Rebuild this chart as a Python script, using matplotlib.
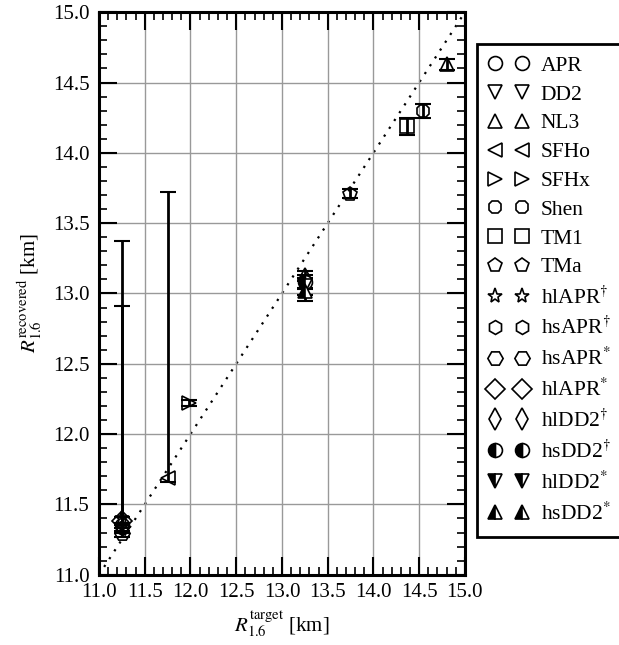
import matplotlib
matplotlib.use("Agg")
import matplotlib.pyplot as plt
import numpy as np

plt.rcParams["font.family"] = ["Liberation Serif", "DejaVu Serif"]
plt.rcParams["mathtext.fontset"] = "stix"

# data
eos_names = ["APR", "DD2", "NL3", "SFHo", "SFHx", "Shen", "TM1", "TMa",
             r"hlAPR$^{\dagger}$", r"hsAPR$^{\dagger}$", r"hsAPR$^{*}$", r"hlAPR$^{*}$",
             r"hlDD2$^{\dagger}$", r"hsDD2$^{\dagger}$", r"hlDD2$^{*}$", r"hsDD2$^{*}$"]
r_target = [11.25, 13.25, 14.81, 11.75, 11.98, 14.54, 14.37, 13.74,
            11.25, 11.25, 11.25, 11.25, 13.25, 13.25, 13.25, 13.25]
r_recovered = [11.35, 13.05, 14.63, 11.69, 12.22, 14.30, 14.19, 13.71,
               11.40, 11.33, 11.30, 11.38, 13.10, 13.08, 13.05, 13.02]
err_low = [0.04, 0.06, 0.04, 0.03, 0.02, 0.05, 0.06, 0.03,
           0.03, 0.03, 0.03, 0.03, 0.06, 0.05, 0.06, 0.07]
err_high = [2.02, 0.06, 0.04, 2.03, 0.02, 0.05, 0.06, 0.03,
            1.51, 0.03, 0.03, 0.03, 0.06, 0.05, 0.06, 0.07]

# marker styles (marker, size, fillstyle)
styles = [("o", 10, "none"), ("v", 10, "none"), ("^", 10, "none"), ("<", 10, "none"),
          (">", 10, "none"), ("8", 10, "none"), ("s", 10, "none"), ("p", 10, "none"),
          ("*", 11, "none"), ("h", 10, "none"), ("H", 11, "none"), ("D", 10, "none"),
          ("d", 11, "none"), ("o", 10, "left"), ("v", 10, "left"), ("^", 10, "left")]

fig = plt.figure(figsize=(6.19, 6.45), dpi=100)
ax = fig.add_axes([0.160, 0.109, 0.591, 0.872])

ax.grid(True, which="major", color="#999999", lw=1.0, zorder=0)
diag = np.array([11.0, 15.0])
ax.plot(diag, diag, ls=(0, (1, 3.2)), color="black", lw=1.6, zorder=1)

ax.errorbar(r_target, r_recovered, yerr=[err_low, err_high], fmt="none",
            ecolor="black", elinewidth=2.0, capsize=6, capthick=1.5, zorder=2)

for name, x, y, (m, ms, fs) in zip(eos_names, r_target, r_recovered, styles):
    if fs == "none":
        ax.plot(x, y, ls="none", marker=m, ms=ms, mfc="none", mec="black",
                mew=1.2, label=name, zorder=3)
    else:
        ax.plot(x, y, ls="none", marker=m, ms=ms, fillstyle=fs, mfc="black",
                mfcalt="white", mec="black", mew=1.2, label=name, zorder=3)

ax.set_xlim(11.0, 15.0)
ax.set_ylim(11.0, 15.0)
ax.set_xticks(np.arange(11.0, 15.01, 0.5))
ax.set_yticks(np.arange(11.0, 15.01, 0.5))
ax.xaxis.set_major_formatter(plt.FormatStrFormatter("%.1f"))
ax.yaxis.set_major_formatter(plt.FormatStrFormatter("%.1f"))
ax.minorticks_on()
ax.xaxis.set_minor_locator(plt.MultipleLocator(0.1))
ax.yaxis.set_minor_locator(plt.MultipleLocator(0.1))
ax.tick_params(which="both", direction="in", top=True, right=True, labelsize=15)
ax.tick_params(which="major", length=13, width=1.5)
ax.tick_params(which="minor", length=6, width=1.2)
ax.tick_params(axis="x", which="major", pad=6)
ax.tick_params(axis="y", which="major", pad=7)
for s in ax.spines.values():
    s.set_linewidth(2.2)

ax.set_xlabel(r"$R_{1.6}^{\rm target}$ [km]", fontsize=15, labelpad=5)
ax.set_ylabel(r"$R_{1.6}^{\rm recovered}$ [km]", fontsize=15, labelpad=6)

leg = ax.legend(loc="upper left", bbox_to_anchor=(477 / 619, 1 - 44 / 645),
                bbox_transform=fig.transFigure, numpoints=2, fontsize=15.5,
                handlelength=1.85, handletextpad=0.55, labelspacing=0.405,
                borderpad=0.55, borderaxespad=0.0, fancybox=False, framealpha=1)
leg.get_frame().set_edgecolor("black")
leg.get_frame().set_linewidth(2.0)

fig.savefig("out.png", dpi=100)
